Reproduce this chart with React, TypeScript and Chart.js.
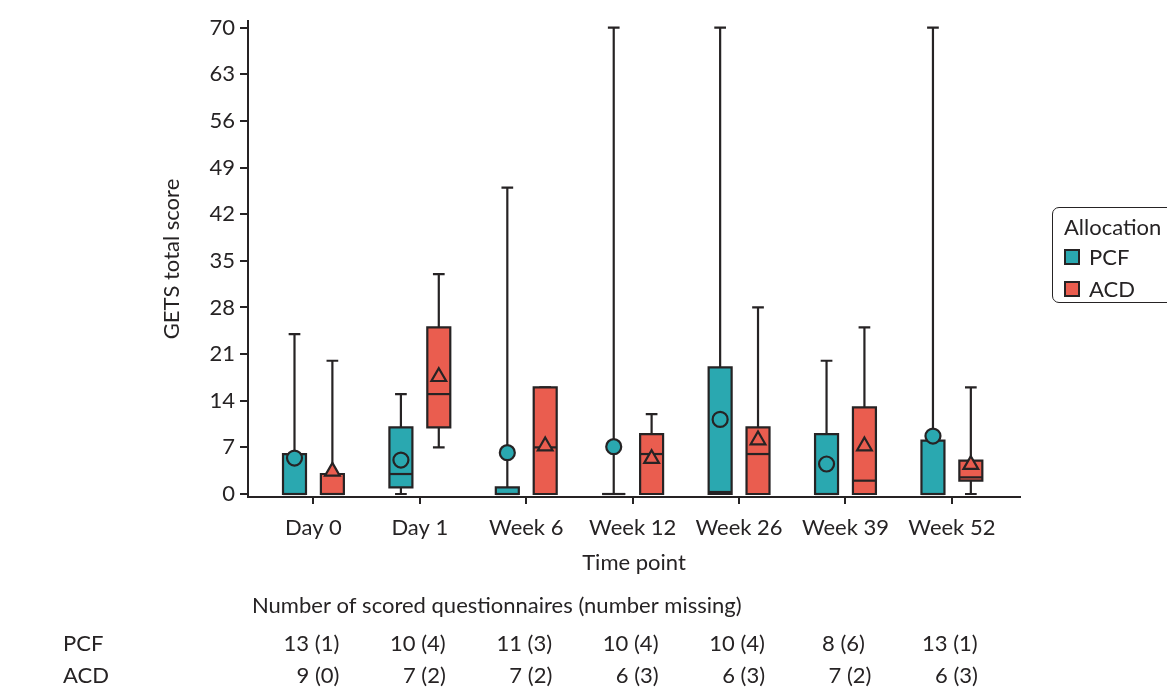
import React, { useEffect, useRef } from "react";
import { Chart, registerables } from "chart.js";

Chart.register(...registerables);

const categories = ["Day 0", "Day 1", "Week 6", "Week 12", "Week 26", "Week 39", "Week 52"];
const yTicks = [0, 7, 14, 21, 28, 35, 42, 49, 56, 63, 70];

const pcfMin = [0, 0, 0, 0, 0, 0, 0];
const pcfQ1 = [0, 1, 0, 0, 0, 0, 0];
const pcfMedian = [0, 3, 0, 0, 0.3, 0, 0];
const pcfQ3 = [6, 10, 1, 0, 19, 9, 8];
const pcfMax = [24, 15, 46, 70, 70, 20, 70];
const pcfMean = [5.4, 5.1, 6.2, 7.1, 11.2, 4.5, 8.7];

const acdMin = [0, 7, 0, 0, 0, 0, 0];
const acdQ1 = [0, 10, 0, 0, 0, 0, 2];
const acdMedian = [0, 15, 7, 6, 6, 2, 2.5];
const acdQ3 = [3, 25, 16, 9, 10, 13, 5];
const acdMax = [20, 33, 16, 12, 28, 25, 16];
const acdMean = [3.4, 17.6, 7.2, 5.3, 8.1, 7.2, 4.4];

const pcfScored = [13, 10, 11, 10, 10, 8, 13];
const pcfMissing = [1, 4, 3, 4, 4, 6, 1];
const acdScored = [9, 7, 7, 6, 6, 7, 6];
const acdMissing = [0, 2, 2, 3, 3, 2, 3];

const TEAL = "#2aa8b0";
const RED = "#ea5d4f";
const DARK = "#262324";
const FONT = "Lato, 'Open Sans', sans-serif";
const FS = 22;
const OFFSET = 0.178;
const BOX_HALF = 0.108;
const CAP_HALF = 0.055;

const groups = [
  { name: "PCF", color: TEAL, off: -OFFSET, min: pcfMin, q1: pcfQ1, med: pcfMedian, q3: pcfQ3, max: pcfMax },
  { name: "ACD", color: RED, off: OFFSET, min: acdMin, q1: acdQ1, med: acdMedian, q3: acdQ3, max: acdMax },
];

const boxPlugin = {
  id: "boxes",
  beforeDatasetsDraw(chart: any) {
    const ctx = chart.ctx;
    const xs = chart.scales.x;
    const ys = chart.scales.y;
    ctx.save();
    ctx.strokeStyle = DARK;
    ctx.lineWidth = 2.2;
    groups.forEach((g) => {
      categories.forEach((_, i) => {
        const c = i + g.off;
        const xc = xs.getPixelForValue(c);
        const xl = xs.getPixelForValue(c - BOX_HALF);
        const xr = xs.getPixelForValue(c + BOX_HALF);
        const cl = xs.getPixelForValue(c - CAP_HALF);
        const cr = xs.getPixelForValue(c + CAP_HALF);
        const yMin = ys.getPixelForValue(g.min[i]);
        const yMax = ys.getPixelForValue(g.max[i]);
        const yQ1 = ys.getPixelForValue(g.q1[i]);
        const yQ3 = ys.getPixelForValue(g.q3[i]);
        const yMed = ys.getPixelForValue(g.med[i]);
        ctx.beginPath();
        ctx.moveTo(xc, yQ3);
        ctx.lineTo(xc, yMax);
        ctx.moveTo(cl, yMax);
        ctx.lineTo(cr, yMax);
        ctx.moveTo(xc, yQ1);
        ctx.lineTo(xc, yMin);
        ctx.moveTo(cl, yMin);
        ctx.lineTo(cr, yMin);
        ctx.stroke();
        ctx.fillStyle = g.color;
        ctx.beginPath();
        ctx.rect(xl, yQ3, xr - xl, yQ1 - yQ3);
        ctx.fill();
        ctx.stroke();
        ctx.beginPath();
        ctx.moveTo(xl, yMed);
        ctx.lineTo(xr, yMed);
        ctx.stroke();
      });
    });
    ctx.restore();
  },
  afterDraw(chart: any) {
    const ctx = chart.ctx;
    const xs = chart.scales.x;
    ctx.save();
    ctx.fillStyle = DARK;
    ctx.font = `${FS}px ${FONT}`;
    ctx.textBaseline = "middle";
    ctx.textAlign = "left";
    ctx.fillText("Number of scored questionnaires (number missing)", 252, 606);
    ctx.fillText("PCF", 63, 644);
    ctx.fillText("ACD", 63, 676);
    categories.forEach((_, i) => {
      const x = xs.getPixelForValue(i);
      ctx.textAlign = "center";
      ctx.fillText(`${pcfScored[i]} (${pcfMissing[i]})`, x - 2, 644);
      ctx.textAlign = "right";
      ctx.fillText(`${acdScored[i]} (${acdMissing[i]})`, x + 26, 676);
    });
    ctx.restore();
  },
};

export default function App() {
  const ref = useRef<HTMLCanvasElement>(null);
  useEffect(() => {
    if (!ref.current) return;
    const chart = new Chart(ref.current, {
      type: "scatter",
      data: {
        datasets: [
          {
            label: "PCF mean",
            data: pcfMean.map((v, i) => ({ x: i - OFFSET, y: v })),
            pointStyle: "circle",
            pointRadius: 7.5,
            pointBackgroundColor: TEAL,
            pointBorderColor: DARK,
            pointBorderWidth: 2.2,
          },
          {
            label: "ACD mean",
            data: acdMean.map((v, i) => ({ x: i + OFFSET, y: v })),
            pointStyle: "triangle",
            pointRadius: 8.5,
            pointBackgroundColor: RED,
            pointBorderColor: DARK,
            pointBorderWidth: 2.2,
          },
        ],
      },
      plugins: [boxPlugin],
      options: {
        animation: false,
        responsive: false,
        layout: { padding: { left: 155, top: 21, right: 147, bottom: 109 } },
        plugins: { legend: { display: false }, tooltip: { enabled: false } },
        scales: {
          x: {
            type: "linear",
            min: -0.615,
            max: 6.64,
            afterBuildTicks: (s: any) => {
              s.ticks = categories.map((_, i) => ({ value: i }));
            },
            afterFit: (s: any) => {
              s.height = 82;
            },
            ticks: {
              callback: (v: any) => categories[v] ?? "",
              color: DARK,
              font: { family: FONT, size: FS },
              padding: 11,
              maxRotation: 0,
              autoSkip: false,
            },
            grid: { drawOnChartArea: false, drawTicks: true, tickLength: 7, color: DARK, lineWidth: 2 },
            border: { display: true, color: DARK, width: 2 },
            title: { display: true, text: "Time point", color: DARK, font: { family: FONT, size: FS }, padding: { top: 4, bottom: 3 } },
          },
          y: {
            type: "linear",
            min: -0.45,
            max: 71,
            afterBuildTicks: (s: any) => {
              s.ticks = yTicks.map((v) => ({ value: v }));
            },
            afterFit: (s: any) => {
              s.width = 93;
            },
            ticks: {
              color: DARK,
              font: { family: FONT, size: FS },
              padding: 5,
            },
            grid: { drawOnChartArea: false, drawTicks: true, tickLength: 8, color: DARK, lineWidth: 2 },
            border: { display: true, color: DARK, width: 2 },
            title: { display: true, text: "GETS total score", color: DARK, font: { family: FONT, size: FS }, padding: { top: 4, bottom: 4 } },
          },
        },
      },
    });
    return () => chart.destroy();
  }, []);

  const sq = (c: string) => ({
    display: "inline-block",
    width: 12,
    height: 12,
    background: c,
    border: `2px solid ${DARK}`,
    marginRight: 9,
    verticalAlign: "middle",
    position: "relative" as const,
    top: -2,
  });

  return (
    <div style={{ position: "absolute", left: 0, top: 0, width: 1167, height: 688, overflow: "hidden", background: "#fff" }}>
      <canvas ref={ref} width={1167} height={688} style={{ display: "block" }} />
      <div
        style={{
          position: "absolute",
          left: 1052,
          top: 207,
          width: 140,
          height: 96,
          border: `1.5px solid ${DARK}`,
          borderRadius: 7,
          fontFamily: FONT,
          fontSize: FS,
          color: DARK,
          lineHeight: "30px",
          padding: "4px 0 0 11px",
          boxSizing: "border-box",
        }}
      >
        <div>Allocation</div>
        <div>
          <span style={sq(TEAL)} />PCF
        </div>
        <div style={{ marginTop: 2 }}>
          <span style={sq(RED)} />ACD
        </div>
      </div>
    </div>
  );
}
